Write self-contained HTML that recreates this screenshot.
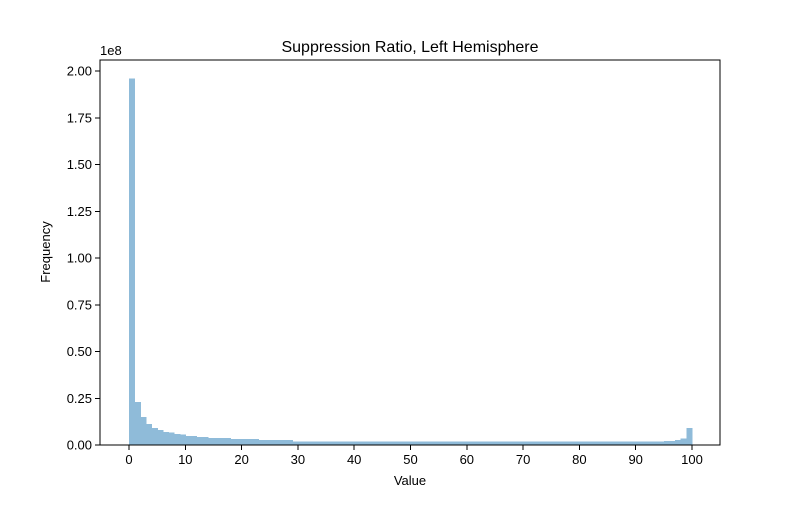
<!DOCTYPE html>
<html><head><meta charset="utf-8"><style>
body{margin:0;background:#fff;font-family:"Liberation Sans",sans-serif}
text{font-family:"Liberation Sans",sans-serif;fill:#000}
</style></head><body>
<svg id="c" width="800" height="500">
<rect x="100" y="60" width="620" height="385" fill="#fff"/>
<g id="bars" shape-rendering="crispEdges"></g>
<g id="axes" shape-rendering="crispEdges"></g>
<text x="410" y="52" text-anchor="middle" font-size="16">Suppression Ratio, Left Hemisphere</text>
<text x="410" y="485" text-anchor="middle" font-size="13">Value</text>
<text x="50" y="252" text-anchor="middle" font-size="13" transform="rotate(-90 50 252)">Frequency</text>
<text x="100" y="55" font-size="13">1e8</text>
</svg>
<script>
const binStarts=[];for(let i=0;i<100;i++)binStarts.push(i);
const counts=[1.96,0.23,0.15,0.112,0.09,0.08,0.07,0.066,0.06,0.055,0.048,0.048,0.043,0.043,0.037,0.037,0.037,0.037,0.032,0.032,0.032,0.032,0.032,0.027,0.027,0.027,0.027,0.027,0.027,0.02,0.02,0.02,0.02,0.02,0.02,0.02,0.02,0.02,0.02,0.019,0.019,0.019,0.019,0.019,0.019,0.019,0.019,0.019,0.019,0.018,0.018,0.018,0.018,0.018,0.018,0.018,0.018,0.018,0.018,0.018,0.018,0.018,0.018,0.018,0.018,0.018,0.018,0.018,0.018,0.018,0.018,0.018,0.018,0.018,0.018,0.018,0.018,0.018,0.018,0.018,0.018,0.018,0.018,0.018,0.018,0.018,0.018,0.018,0.018,0.018,0.018,0.018,0.018,0.018,0.018,0.022,0.022,0.027,0.035,0.09];
const xTicks=[0,10,20,30,40,50,60,70,80,90,100];
const yTicks=[0,0.25,0.5,0.75,1.0,1.25,1.5,1.75,2.0];
const NS='http://www.w3.org/2000/svg';
const X=v=>129+v*5.63, Y=v=>445-v*187;
const bars=document.getElementById('bars'),axes=document.getElementById('axes');
function mk(t,a,p){const e=document.createElementNS(NS,t);for(const k in a)e.setAttribute(k,a[k]);p.appendChild(e);return e;}
binStarts.forEach((b,i)=>{const r=mk('rect',{x:X(b),y:Y(counts[i]),width:X(b+1)-X(b)+0.6,height:445-Y(counts[i]),fill:'#8fbbd9'},bars);

});
mk('rect',{x:100,y:60,width:620,height:385,fill:'none',stroke:'#000','stroke-width':1},axes);
xTicks.forEach(t=>{mk('line',{x1:X(t),x2:X(t),y1:445,y2:450,stroke:'#000'},axes);
const tx=mk('text',{x:X(t),y:464,'text-anchor':'middle','font-size':13},axes);tx.textContent=t;

});
yTicks.forEach(t=>{mk('line',{x1:95,x2:100,y1:Y(t),y2:Y(t),stroke:'#000'},axes);
const tx=mk('text',{x:92,y:Y(t)+4.5,'text-anchor':'end','font-size':13},axes);tx.textContent=t.toFixed(2);

});
</script>
</body></html>
